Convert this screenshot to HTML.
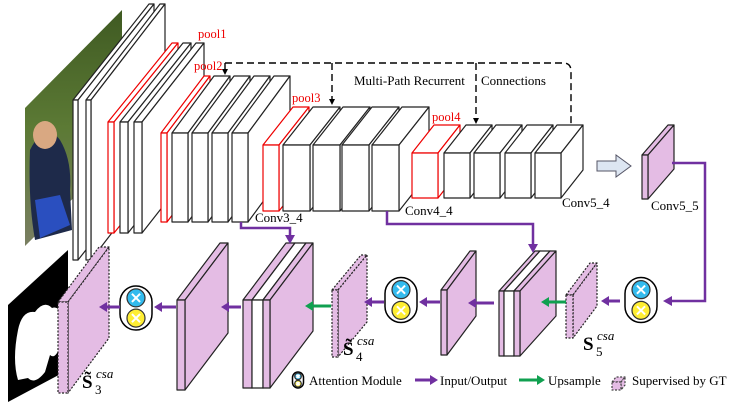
<!DOCTYPE html>
<html><head><meta charset="utf-8"><style>
html,body{margin:0;padding:0;background:#fff;width:732px;height:407px;overflow:hidden}
svg{display:block}
text{font-family:"Liberation Serif",serif}
</style></head><body>
<svg id="s" width="732" height="407" viewBox="0 0 732 407" xmlns="http://www.w3.org/2000/svg">
<defs>
<marker id="ap" markerWidth="6" markerHeight="6" refX="3" refY="3" orient="auto" markerUnits="userSpaceOnUse"><path d="M0,0 L6,3 L0,6z" fill="#000"/></marker>
<linearGradient id="ph" x1="0" y1="0" x2="0" y2="1"><stop offset="0" stop-color="#3f5a22"/><stop offset="0.5" stop-color="#5c7a35"/><stop offset="1" stop-color="#7a7f62"/></linearGradient>
</defs>
<polygon points="25,108 122,10 122,150 25,246" fill="url(#ph)"/>
<path d="M30,150 Q45,120 60,140 Q72,160 70,190 L72,230 L35,240 Q28,200 30,150z" fill="#1e2a4a"/>
<ellipse cx="45" cy="135" rx="12" ry="14" fill="#d9a882"/>
<path d="M35,200 L60,195 L70,225 L40,238z" fill="#2a4fbf"/>
<polygon points="8,305 68,250 68,370 8,402" fill="#000"/>
<path d="M18,330 Q22,310 35,312 Q44,300 52,308 Q60,305 62,320 L60,345 Q56,360 50,355 L45,372 Q35,385 28,378 L18,380 Q12,360 18,330z" fill="#fff"/>
<g id="g"></g>
<g font-size="12.5" fill="#e00">
<text x="198" y="38">pool1</text>
<text x="194" y="70">pool2</text>
<text x="292" y="102">pool3</text>
<text x="432" y="121">pool4</text>
</g>
<g font-size="13" fill="#000">
<text x="255" y="222">Conv3_4</text>
<text x="405" y="215">Conv4_4</text>
<text x="562" y="207">Conv5_4</text>
<text x="651" y="210">Conv5_5</text>
<text x="354" y="85">Multi-Path  Recurrent</text>
<text x="481" y="85">Connections</text>
</g>
<g stroke="#000" stroke-width="1.4" fill="none" stroke-dasharray="7,4">
<path d="M225,63 L563,63 Q571,63 571,71 L571,125"/>
<path d="M225,63 L225,72" marker-end="url(#ap)"/>
<path d="M332,63 L332,102" marker-end="url(#ap)"/>
<path d="M476,63 L476,121" marker-end="url(#ap)"/>
</g>
<g font-size="19" font-weight="bold" fill="#000">
<text x="82" y="388">S̃</text><text x="96" y="378" font-size="13" font-style="italic" font-weight="normal">csa</text><text x="95" y="394" font-size="13" font-weight="normal">3</text>
<text x="343" y="355">S̃</text><text x="357" y="345" font-size="13" font-style="italic" font-weight="normal">csa</text><text x="356" y="361" font-size="13" font-weight="normal">4</text>
<text x="583" y="350">S</text><text x="597" y="340" font-size="13" font-style="italic" font-weight="normal">csa</text><text x="596" y="356" font-size="13" font-weight="normal">5</text>
</g>
<g font-size="13" fill="#000">
<text x="309" y="385">Attention Module</text>
<text x="440" y="385">Input/Output</text>
<text x="548" y="385">Upsample</text>
<text x="632" y="385">Supervised by GT</text>
</g>
</svg>
<script>
var out="";
function cub(x,y,w,h,dx,dy,st,fill,dash){
 var d=dash?' stroke-dasharray="2,1.5"':'';
 var a=' stroke="'+st+'" stroke-width="1.2" fill="'+fill+'" stroke-linejoin="round"'+d;
 out+='<polygon points="'+[x,y,x+dx,y-dy,x+w+dx,y-dy,x+w,y]+'"'+a+'/>';
 out+='<polygon points="'+[x+w,y,x+w+dx,y-dy,x+w+dx,y+h-dy,x+w,y+h]+'"'+a+'/>';
 out+='<rect x="'+x+'" y="'+y+'" width="'+w+'" height="'+h+'"'+a+'/>';
}
var K="#222",R="#e00",W="#fff",P="#e4bce4";
cub(73,100,5,160,76,96,K,W);cub(86,100,5,160,74,96,K,W);
cub(108,122,6,111,64,79,R,W);cub(120,122,8,111,63,79,K,W);cub(134,122,8,111,62,79,K,W);
cub(161,133,6,89,43,57,R,W);
[172,192,212,232].forEach(function(x){cub(x,133,16,89,42,57,K,W)});
cub(263,145,16,66,30,38,R,W);
[283,313,342,372].forEach(function(x){cub(x,145,27,66,30,38,K,W)});
cub(412,153,26,45,22,28,R,W);
[444,474,505,535].forEach(function(x){cub(x,153,26,45,22,28,K,W)});
cub(642,155,6,44,26,30,K,P);
cub(58,302,10,91,41,55,K,P,1);
cub(177,300,8,90,43,57,K,P);
cub(243,300,9,88,43,57,K,P);cub(252,300,11,88,43,57,K,W);cub(263,300,7,88,43,57,K,P);
cub(332,290,6,67,29,35,K,P,1);
cub(441,290,6,65,29,39,K,P);
cub(499,291,5,65,36,40,K,P);cub(504,291,10,65,36,40,K,W);cub(514,291,6,65,36,40,K,P);
cub(566,295,7,43,24,32,K,P,1);
cub(612,382,9,8,4,5,"#444",P,1);
function att(cx,cy,w,h,r){
 out+='<rect x="'+(cx-w/2)+'" y="'+(cy-h/2)+'" width="'+w+'" height="'+h+'" rx="'+(w/2)+'" fill="#fff" stroke="#000" stroke-width="1.5"/>';
 [[cy-h*0.23,"#33bbee"],[cy+h*0.23,"#ffee33"]].forEach(function(c){
  out+='<circle cx="'+cx+'" cy="'+c[0]+'" r="'+r+'" fill="'+c[1]+'" stroke="#333" stroke-width="1.2"/>';
  var q=r*0.45;out+='<path d="M'+(cx-q)+','+(c[0]-q)+'L'+(cx+q)+','+(c[0]+q)+'M'+(cx+q)+','+(c[0]-q)+'L'+(cx-q)+','+(c[0]+q)+'" stroke="#fff" stroke-width="2"/>';
 });
}
att(641,300,32,45,9);att(401,300,32,45,9);att(136,308,32,44,9);att(298,380,11,16,3.3);
function arr(x1,y,x2,col){
 var dir=x2<x1?-1:1;var hx=x2-dir*8;
 out+='<line x1="'+x1+'" y1="'+y+'" x2="'+hx+'" y2="'+y+'" stroke="'+col+'" stroke-width="3"/>';
 out+='<polygon points="'+[x2,y,hx,y-5,hx,y+5]+'" fill="'+col+'"/>';
}
var PU="#7030a0",G="#10a050";
arr(620,301,601,PU);arr(440,302,419,PU);arr(384,302,364,PU);arr(494,303,468,PU);
arr(241,307,221,PU);arr(176,307,154,PU);arr(120,307,99,PU);
arr(566,302,541,G);arr(331,306,305,G);
arr(415,380,438,PU);arr(519,380,545,G);
out+='<path d="M672,163 L705,163 L705,301 L670,301" fill="none" stroke="'+PU+'" stroke-width="2.5"/><polygon points="663,301 672,296 672,306" fill="'+PU+'"/>';
out+='<path d="M387,211 L387,224 L533,224 L533,245" fill="none" stroke="'+PU+'" stroke-width="2.5"/><polygon points="533,253 528,244 538,244" fill="'+PU+'"/>';
out+='<path d="M241,222 L241,228 L290,228 L290,236" fill="none" stroke="'+PU+'" stroke-width="2.5"/><polygon points="290,244 285,235 295,235" fill="'+PU+'"/>';
out+='<polygon points="597,161 616,161 616,155 631,166 616,177 616,171 597,171" fill="#dde6f2" stroke="#556" stroke-width="1"/>';
document.getElementById("g").innerHTML=out;
</script>
</body></html>
